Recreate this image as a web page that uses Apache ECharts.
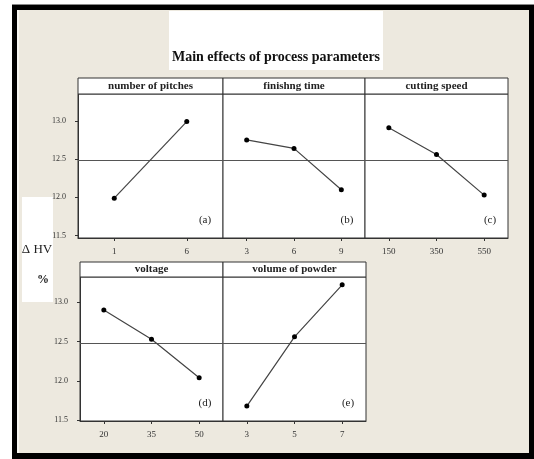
<!DOCTYPE html>
<html><head><meta charset="utf-8">
<script src="https://cdn.jsdelivr.net/npm/echarts@6/dist/echarts.min.js"></script>
<style>html,body{margin:0;padding:0;background:#fff}#c{width:534px;height:459px}</style>
</head><body><div id="c"></div>
<script>
const titleText = 'Main effects of process parameters';
const panelNames = ['number of pitches','finishng time','cutting speed','voltage','volume of powder'];
const panelTags = ['(a)','(b)','(c)','(d)','(e)'];
const catA = ['1','6'];          const valA = [11.99, 12.99];
const catB = ['3','6','9'];      const valB = [12.75, 12.64, 12.10];
const catC = ['150','350','550'];const valC = [12.91, 12.56, 12.03];
const catD = ['20','35','50'];   const valD = [12.90, 12.53, 12.04];
const catE = ['3','5','7'];      const valE = [11.68, 12.56, 13.22];
const yTicks = [11.5, 12.0, 12.5, 13.0];
const grandMean = 12.48;
const yLabel1 = '\u0394 HV';
const yLabel2 = '%';

const cats = [catA,catB,catC,catD,catE];
const vals = [valA,valB,valC,valD,valE];
const FONT = 'Liberation Serif';
const boxes = [
  [78, 94, 145, 144],
  [223, 94, 142, 144],
  [365, 94, 143, 144],
  [80, 277, 143, 144],
  [223, 277, 143, 144]
];
const headerH = [16,16,16,15,15];
const yRange = [[11.47,13.35],[11.47,13.35],[11.47,13.35],[11.49,13.32],[11.49,13.32]];
const showY = [true,false,false,true,false];

const grid=[], xAxis=[], yAxis=[], series=[];
const graphic = [
  {type:'rect', z:-100, shape:{x:12,y:4,width:522,height:455}, style:{fill:'#000'}},
  {type:'rect', z:-99, shape:{x:12,y:4,width:522,height:1}, style:{fill:'#888'}},
  {type:'rect', z:-98, shape:{x:17,y:10,width:512,height:443}, style:{fill:'#ede9df'}},
  {type:'rect', z:-97, shape:{x:17,y:10,width:2,height:443}, style:{fill:'#f8f7f3'}},
  {type:'rect', z:-90, shape:{x:169,y:11,width:214,height:59}, style:{fill:'#fff'}},
  {type:'text', z:20, x:276, y:57, style:{text:titleText, font:'bold 14px "'+FONT+'"', fill:'#111', align:'center', verticalAlign:'middle'}},
  {type:'rect', z:-90, shape:{x:22,y:197,width:31,height:105}, style:{fill:'#fff'}},
  {type:'text', z:20, x:37, y:250, style:{text:yLabel1, font:'13px "'+FONT+'"', fill:'#222', align:'center', verticalAlign:'middle'}},
  {type:'text', z:20, x:43, y:280, style:{text:yLabel2, font:'bold 12px "'+FONT+'"', fill:'#222', align:'center', verticalAlign:'middle'}}
];

boxes.forEach((b,i)=>{
  const [l,t,w,h] = b;
  grid.push({left:l, top:t, width:w, height:h, show:true, backgroundColor:'#fff', borderColor:'#333', borderWidth:1, containLabel:false});
  xAxis.push({type:'category', gridIndex:i, data:cats[i], boundaryGap:true,
    axisLine:{show:true, lineStyle:{color:'#333', width:1}},
    axisTick:{show:true, alignWithLabel:true, length:3, lineStyle:{color:'#333'}},
    axisLabel:{show:true, margin:9, fontFamily:FONT, fontSize:9, color:'#333'},
    splitLine:{show:false}});
  yAxis.push({type:'value', gridIndex:i, min:yRange[i][0], max:yRange[i][1],
    axisLine:{show:showY[i], lineStyle:{color:'#333'}},
    axisTick:{show:showY[i], length:3, customValues:yTicks, lineStyle:{color:'#333'}},
    axisLabel:{show:showY[i], customValues:yTicks, margin:12, fontFamily:FONT, fontSize:8, color:'#333', formatter:v=>v.toFixed(1)},
    splitLine:{show:false}});
  series.push({type:'line', xAxisIndex:i, yAxisIndex:i, data:vals[i],
    symbol:'circle', symbolSize:5, itemStyle:{color:'#000'},
    lineStyle:{color:'#444', width:1.2}, animation:false, z:5,
    markLine:{silent:true, symbol:'none', label:{show:false},
      lineStyle:{color:'#555', width:1, type:'solid'},
      data:[{yAxis:grandMean}]}});
  graphic.push({type:'rect', z:10, shape:{x:l, y:t-headerH[i], width:w, height:headerH[i]},
    style:{fill:'#fff', stroke:'#333', lineWidth:1}});
  graphic.push({type:'text', z:20, x:l+w/2, y:t-headerH[i]/2, style:{text:panelNames[i], font:'bold 11px "'+FONT+'"', fill:'#222', align:'center', verticalAlign:'middle'}});
  graphic.push({type:'text', z:20, x:l+w-18, y:t+h-18, style:{text:panelTags[i], font:'11px "'+FONT+'"', fill:'#222', align:'center', verticalAlign:'middle'}});
});

const chart = echarts.init(document.getElementById('c'), null, {renderer:'canvas'});
chart.setOption({backgroundColor:'#fff', animation:false, grid, xAxis, yAxis, series, graphic});
</script></body></html>
